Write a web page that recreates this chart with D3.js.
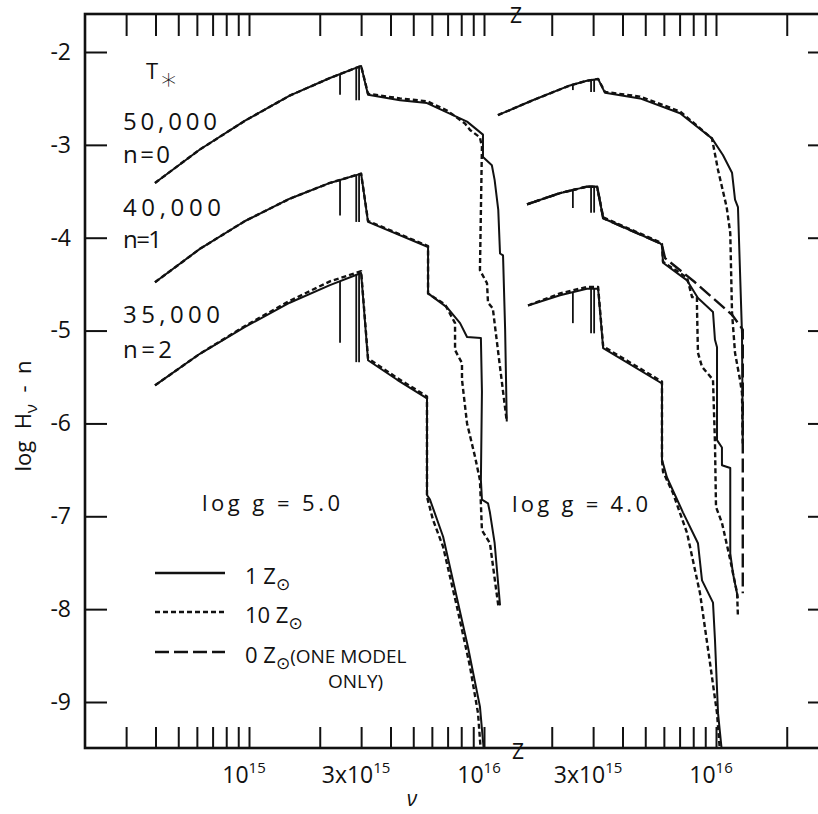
<!DOCTYPE html>
<html>
<head>
<meta charset="utf-8">
<script src="https://cdn.jsdelivr.net/npm/d3@7"></script>
<style>
  body { margin: 0; background: #fff; }
  svg { display: block; }
  text { font-family: "Open Sans", "DejaVu Sans", sans-serif; font-weight: 400; fill: #111; }
</style>
</head>
<body>
<svg id="chart" width="818" height="814"></svg>
<script>
// frequencies are in units of 1e15 Hz, values are log H_nu - n

// tick values
const yTicks = [-2, -3, -4, -5, -6, -7, -8, -9];
const leftTicks = [0.3, 0.4, 0.5, 0.6, 0.7, 0.8, 0.9, 1, 2, 3, 4, 5, 6, 7, 8, 9, 10];
const rightTicks = [2, 3, 4, 5, 6, 7, 8, 9, 10, 20];
const leftTickLabels = [[1, "10", "15"], [3, "3x10", "15"], [10, "10", "16"]];
const rightTickLabels = [[3, "3x10", "15"], [10, "10", "16"]];

// log g = 5.0
const g5t50Solar = [[0.398, -3.41], [0.618, -3.05], [0.962, -2.74], [1.49, -2.47], [2.21, -2.28], [3.00, -2.15], [3.21, -2.46], [4.39, -2.52], [5.72, -2.55], [6.96, -2.65], [8.47, -2.75], [9.90, -2.89], [9.90, -3.13], [10.8, -3.22], [11.1, -3.38], [11.5, -3.70], [11.7, -4.17], [12.05, -4.19], [12.3, -4.99], [12.5, -5.98]];
const g5t50Ten = [[0.398, -3.41], [0.618, -3.05], [0.962, -2.74], [1.49, -2.47], [2.21, -2.28], [3.00, -2.15], [3.21, -2.45], [4.39, -2.50], [5.72, -2.53], [6.96, -2.63], [8.30, -2.77], [8.72, -2.84], [9.61, -2.92], [9.80, -3.02], [9.61, -4.35], [10.3, -4.49], [10.4, -4.70], [10.9, -4.76], [11.5, -5.24], [12.5, -5.98]];
const g5t40Solar = [[0.398, -4.48], [0.618, -4.12], [0.962, -3.82], [1.49, -3.58], [2.21, -3.41], [3.00, -3.31], [3.21, -3.83], [5.78, -4.10], [5.78, -4.60], [6.96, -4.75], [7.91, -4.92], [8.47, -5.07], [9.70, -5.08], [9.80, -5.66], [9.70, -6.61], [9.80, -6.82], [10.4, -6.86], [10.6, -6.96], [11.1, -7.29], [11.7, -7.96]];
const g5t40Ten = [[0.398, -4.48], [0.618, -4.12], [0.962, -3.82], [1.49, -3.58], [2.21, -3.41], [3.00, -3.31], [3.21, -3.82], [5.78, -4.09], [5.78, -4.60], [6.83, -4.72], [7.53, -4.92], [7.53, -5.21], [8.06, -5.35], [8.06, -5.53], [8.47, -6.00], [9.16, -6.36], [9.61, -6.61], [9.80, -7.15], [10.6, -7.29], [11.5, -7.96]];
const g5t35Solar = [[0.398, -5.59], [0.618, -5.25], [0.962, -4.96], [1.49, -4.70], [2.21, -4.51], [3.00, -4.38], [3.21, -5.32], [4.27, -5.53], [5.72, -5.73], [5.72, -6.77], [5.89, -6.82], [6.70, -7.22], [7.38, -7.69], [8.55, -8.41], [9.61, -9.05], [10.0, -9.54]];
const g5t35Ten = [[0.398, -5.59], [0.618, -5.25], [0.962, -4.95], [1.49, -4.68], [2.21, -4.47], [3.00, -4.36], [3.21, -5.30], [4.27, -5.51], [5.72, -5.71], [5.72, -6.79], [6.07, -7.04], [6.70, -7.33], [7.68, -7.98], [8.72, -8.62], [9.43, -9.12], [9.70, -9.54]];

// log g = 4.0
const g4t50Solar = [[1.18, -2.68], [1.66, -2.52], [2.39, -2.36], [2.82, -2.31], [3.15, -2.29], [3.37, -2.44], [4.75, -2.50], [7.03, -2.66], [9.61, -2.93], [10.7, -3.11], [11.7, -3.30], [12.05, -3.59], [12.4, -3.67], [12.9, -5.03], [13.0, -6.18]];
const g4t50Ten = [[1.18, -2.68], [1.66, -2.52], [2.39, -2.36], [2.82, -2.31], [3.15, -2.29], [3.37, -2.43], [4.75, -2.48], [7.03, -2.64], [9.61, -2.93], [10.2, -3.27], [11.1, -3.67], [11.5, -3.95], [11.7, -4.81], [12.05, -5.24], [12.65, -5.53], [12.9, -5.67], [13.0, -6.23]];
const g4t40Solar = [[1.57, -3.64], [2.17, -3.52], [2.82, -3.45], [3.12, -3.45], [3.31, -3.79], [5.78, -4.06], [5.89, -4.08], [5.95, -4.27], [7.53, -4.46], [8.38, -4.65], [9.71, -4.80], [9.90, -5.10], [10.1, -5.18], [10.1, -6.18], [10.6, -6.26], [10.6, -6.45], [11.5, -6.48], [11.5, -7.40], [11.8, -7.61], [12.4, -7.88]];
const g4t40Ten = [[1.57, -3.64], [2.17, -3.52], [2.82, -3.45], [3.12, -3.45], [3.31, -3.78], [5.78, -4.05], [5.89, -4.07], [5.95, -4.26], [7.53, -4.43], [7.91, -4.64], [8.30, -4.64], [8.30, -4.75], [8.38, -5.24], [8.72, -5.39], [9.71, -5.53], [9.90, -6.21], [10.0, -6.90], [10.6, -7.07], [11.5, -7.47], [12.3, -7.83], [12.4, -8.09]];
const g4t40Zero = [[1.57, -3.64], [2.17, -3.52], [2.82, -3.45], [3.12, -3.45], [3.31, -3.79], [5.78, -4.06], [5.89, -4.08], [6.07, -4.22], [8.14, -4.48], [11.7, -4.83], [13.0, -4.99], [13.0, -7.83]];
const g4t35Solar = [[1.585, -4.73], [2.17, -4.62], [2.82, -4.55], [3.15, -4.55], [3.31, -5.19], [5.89, -5.57], [5.89, -6.39], [6.18, -6.58], [7.24, -6.96], [8.38, -7.29], [8.72, -7.69], [9.71, -7.93], [9.90, -8.33], [10.2, -9.12], [10.6, -9.54]];
const g4t35Ten = [[1.585, -4.73], [2.17, -4.60], [2.82, -4.53], [3.15, -4.53], [3.31, -5.17], [5.89, -5.55], [5.89, -6.39], [5.95, -6.52], [6.56, -6.75], [7.53, -7.18], [8.55, -7.83], [9.43, -8.58], [10.1, -9.12], [10.4, -9.54]];

// absorption lines drawn as drops below the continuum
const leftLineNu = [2.44, 2.86, 2.94];
const rightLineNu = [2.46, 2.94, 3.03];
const g5t50LineDepth = [-2.46, -2.52, -2.52];
const g5t40LineDepth = [-3.76, -3.83, -3.83];
const g5t35LineDepth = [-5.13, -5.34, -5.34];
const g4t50LineDepth = [-2.41, -2.43, -2.43];
const g4t40LineDepth = [-3.68, -3.73, -3.73];
const g4t35LineDepth = [-4.92, -5.03, -5.03];

const svg = d3.select("#chart");
const frame = { left: 85, top: 14, right: 830, bottom: 748 };

const y = d3.scaleLinear().domain([-9, -2]).range([702, 52]);
const xLeft = d3.scaleLog().domain([1, 10]).range([249, 484]);
const xRight = d3.scaleLog().domain([1, 10]).range([481, 716]);

const dashes = { solar: null, ten: "5,3", zero: "14,5" };

const series = [
  { x: xLeft, z: "ten", points: g5t50Ten },
  { x: xLeft, z: "ten", points: g5t40Ten },
  { x: xLeft, z: "ten", points: g5t35Ten },
  { x: xRight, z: "ten", points: g4t50Ten },
  { x: xRight, z: "ten", points: g4t40Ten },
  { x: xRight, z: "ten", points: g4t35Ten },
  { x: xRight, z: "zero", points: g4t40Zero },
  { x: xLeft, z: "solar", points: g5t50Solar },
  { x: xLeft, z: "solar", points: g5t40Solar },
  { x: xLeft, z: "solar", points: g5t35Solar },
  { x: xRight, z: "solar", points: g4t50Solar },
  { x: xRight, z: "solar", points: g4t40Solar },
  { x: xRight, z: "solar", points: g4t35Solar },
];

const lineSets = [
  { x: xLeft, nu: leftLineNu, depth: g5t50LineDepth, curve: g5t50Solar },
  { x: xLeft, nu: leftLineNu, depth: g5t40LineDepth, curve: g5t40Solar },
  { x: xLeft, nu: leftLineNu, depth: g5t35LineDepth, curve: g5t35Solar },
  { x: xRight, nu: rightLineNu, depth: g4t50LineDepth, curve: g4t50Solar },
  { x: xRight, nu: rightLineNu, depth: g4t40LineDepth, curve: g4t40Solar },
  { x: xRight, nu: rightLineNu, depth: g4t35LineDepth, curve: g4t35Solar },
];

// continuum value at nu, log-interpolated on the rising part
function valueAt(points, nu) {
  for (let i = 0; i < points.length - 1; i++) {
    const [a, va] = points[i];
    const [b, vb] = points[i + 1];
    if (b > a && nu >= a && nu <= b) {
      const t = (Math.log(nu) - Math.log(a)) / (Math.log(b) - Math.log(a));
      return va + t * (vb - va);
    }
  }
  return points[0][1];
}

svg.append("defs").append("clipPath").attr("id", "plot")
  .append("rect")
  .attr("x", frame.left).attr("y", frame.top)
  .attr("width", frame.right - frame.left).attr("height", frame.bottom - frame.top);

// frame
svg.append("rect")
  .attr("x", frame.left).attr("y", frame.top)
  .attr("width", frame.right - frame.left).attr("height", frame.bottom - frame.top)
  .attr("fill", "none").attr("stroke", "#111").attr("stroke-width", 2.6);

const styleAxis = (g) => {
  g.select(".domain").remove();
  g.selectAll(".tick line").attr("stroke", "#111").attr("stroke-width", 2);
  g.selectAll(".tick text").attr("font-size", 23).attr("fill", "#111");
};

svg.append("g").attr("transform", `translate(${frame.left},0)`)
  .call(d3.axisLeft(y).tickValues(yTicks).tickSizeInner(-22).tickSizeOuter(0).tickPadding(14).tickFormat((d) => String(d)))
  .call(styleAxis);
svg.append("g").attr("transform", `translate(${frame.right},0)`)
  .call(d3.axisRight(y).tickValues(yTicks).tickSizeInner(-22).tickSizeOuter(0).tickFormat(""))
  .call(styleAxis);

[[xLeft, leftTicks], [xRight, rightTicks]].forEach(([x, ticks]) => {
  svg.append("g").attr("transform", `translate(0,${frame.top})`)
    .call(d3.axisTop(x).tickValues(ticks).tickSizeInner(-22).tickSizeOuter(0).tickFormat(""))
    .call(styleAxis);
  svg.append("g").attr("transform", `translate(0,${frame.bottom})`)
    .call(d3.axisBottom(x).tickValues(ticks).tickSizeInner(-21).tickSizeOuter(0).tickFormat(""))
    .call(styleAxis);
});

// axis break marks
svg.append("text").attr("x", 516).attr("y", frame.top + 9).attr("text-anchor", "middle").attr("font-size", 21).text("Z");
svg.append("text").attr("x", 518).attr("y", frame.bottom + 11).attr("text-anchor", "middle").attr("font-size", 21).text("Z");

// frequency labels
[[xLeft, leftTickLabels], [xRight, rightTickLabels]].forEach(([x, labels]) => {
  labels.forEach(([nu, base, exp]) => {
    const t = svg.append("text")
      .attr("x", x(nu) - 5).attr("y", 783)
      .attr("text-anchor", "middle").attr("font-size", 23);
    t.append("tspan").text(base);
    t.append("tspan").attr("dy", -10).attr("font-size", 15).text(exp);
  });
});

// spectra
const plot = svg.append("g").attr("clip-path", "url(#plot)");
series.forEach((s) => {
  plot.append("path")
    .datum(s.points)
    .attr("fill", "none")
    .attr("stroke", "#111")
    .attr("stroke-width", s.z === "solar" ? 2 : 2.4)
    .attr("stroke-dasharray", dashes[s.z])
    .attr("stroke-linejoin", "round")
    .attr("d", d3.line().x((d) => s.x(d[0])).y((d) => y(d[1])));
});

lineSets.forEach((ls) => {
  plot.selectAll(null)
    .data(ls.nu.map((nu, i) => [nu, valueAt(ls.curve, nu), ls.depth[i]]))
    .join("line")
    .attr("x1", (d) => ls.x(d[0])).attr("x2", (d) => ls.x(d[0]))
    .attr("y1", (d) => y(d[1])).attr("y2", (d) => y(d[2]))
    .attr("stroke", "#111").attr("stroke-width", 1.8);
});

// temperature labels
const tempLabels = [
  ["50,000", 130, 94], ["n = 0", 163, 47],
  ["40,000", 216, 98], ["n = 1", 248, 39],
  ["35,000", 323, 97], ["n = 2", 358, 49],
];
tempLabels.forEach(([txt, base, w]) => {
  svg.append("text").attr("x", 123).attr("y", base)
    .attr("font-size", 24).attr("textLength", w).attr("lengthAdjust", "spacing")
    .text(txt);
});
const tStar = svg.append("text").attr("x", 146).attr("y", 79).attr("font-size", 22);
tStar.append("tspan").text("T");
tStar.append("tspan").attr("dx", 1).attr("dy", 10).attr("font-size", 30).attr("font-weight", 300).text("∗");

svg.append("text").attr("x", 202).attr("y", 511).attr("font-size", 22)
  .attr("textLength", 138).attr("lengthAdjust", "spacing").text("log g = 5.0");
svg.append("text").attr("x", 512).attr("y", 512).attr("font-size", 22)
  .attr("textLength", 136).attr("lengthAdjust", "spacing").text("log g = 4.0");

// legend
const legendItems = [
  { z: "solar", lead: "1 Z", tail: "", y: 573 },
  { z: "ten", lead: "10 Z", tail: "", y: 612 },
  { z: "zero", lead: "0 Z", tail: "(ONE MODEL", y: 652 },
];
legendItems.forEach((d) => {
  svg.append("line")
    .attr("x1", 155).attr("x2", 225).attr("y1", d.y).attr("y2", d.y)
    .attr("stroke", "#111").attr("stroke-width", 2.4)
    .attr("stroke-dasharray", dashes[d.z]);
  const t = svg.append("text").attr("x", 245).attr("y", d.y + 11).attr("font-size", 22);
  t.append("tspan").text(d.lead);
  t.append("tspan").attr("dy", 6).attr("font-size", 17).text("⊙");
  if (d.tail) t.append("tspan").attr("dy", -6).attr("font-size", 19).text(d.tail);
});
svg.append("text").attr("x", 328).attr("y", 688).attr("font-size", 19).text("ONLY)");

// axis titles
const yTitle = svg.append("text")
  .attr("transform", "translate(31,416) rotate(-90)")
  .attr("text-anchor", "middle").attr("font-size", 22)
  .style("white-space", "pre");
yTitle.append("tspan").text("log  H");
yTitle.append("tspan").attr("dy", 6).attr("font-size", 17).text("ν");
yTitle.append("tspan").attr("dy", -6).text("  -  n");

svg.append("text").attr("x", 412).attr("y", 806)
  .attr("text-anchor", "middle").attr("font-size", 21).attr("font-style", "italic").text("ν");
</script>
</body>
</html>
